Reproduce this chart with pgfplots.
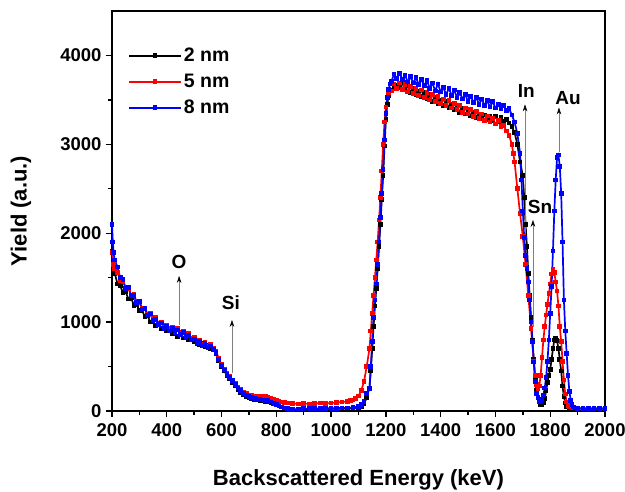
\documentclass[border=0pt]{standalone}
\usepackage{fontspec}
\setmainfont{Liberation Sans}
\usepackage{pgfplots}
\pgfplotsset{compat=1.18}
\usetikzlibrary{arrows.meta}
\definecolor{cblack}{RGB}{0,0,0}
\definecolor{cred}{RGB}{255,0,0}
\definecolor{cblue}{RGB}{0,0,255}
\begin{document}
\begin{tikzpicture}
\useasboundingbox (-112pt,-81pt) rectangle (513pt,411pt);
\begin{axis}[
  at={(0pt,0pt)}, anchor=south west,
  scale only axis, width=493pt, height=400pt,
  xmin=200, xmax=2000, ymin=0, ymax=4500,
  xtick={200,400,...,2000}, ytick={0,1000,...,4000},
  minor x tick num=1, minor y tick num=1,
  xtick pos=bottom, ytick pos=left,
  tick align=outside,
  major tick length=6pt, minor tick length=4pt,
  every tick/.style={black, line width=1.4pt},
  axis line style={line width=1.6pt},
  /pgf/number format/assume math mode=true,
  /pgf/number format/set thousands separator={},
  ticklabel style={font=\fontsize{18.5}{20}\selectfont\bfseries},
  xticklabel style={yshift=-3pt},
  yticklabel style={xshift=-1pt},
  legend style={at={(13pt,367pt)}, anchor=north west, draw=none, fill=none,
    font=\fontsize{19.5}{21}\selectfont\bfseries, row sep=7pt,
    legend cell align=left},
  legend image code/.code={\draw[mark repeat=2,mark phase=2] plot coordinates {(0pt,0pt) (26pt,0pt) (52pt,0pt)};},
  every axis plot/.append style={line width=1.7pt, mark=square*, mark size=1.5pt},
  clip=true,
]
% 2 nm
\addplot[cblack, mark options={fill=cblack}] coordinates {
(200,1800)(205,1620)(210,1550)(220,1430)(230,1410)(240,1330)(250,1340)(260,1260)(270,1270)(280,1190)(290,1200)(300,1130)(310,1130)(320,1060)(330,1070)(340,1000)(350,1010)(360,960)(370,970)(380,930)(390,940)(400,900)(410,910)(420,870)(430,880)(440,840)(450,855)(460,820)(470,835)(480,800)(490,810)(500,775)(510,785)(520,750)(530,760)(540,725)(550,735)(560,700)(570,690)(580,650)(590,570)(600,500)(610,450)(620,400)(630,360)(640,320)(650,280)(660,240)(670,210)(680,180)(690,160)(700,145)(710,138)(720,130)(730,125)(740,120)(750,115)(760,110)(770,103)(780,95)(790,82)(800,70)(810,57)(820,45)(830,35)(840,25)(850,20)(860,15)(880,15)(900,18)(920,20)(940,20)(960,22)(980,22)(1000,25)(1020,25)(1040,25)(1060,28)(1080,30)(1100,35)(1110,50)(1120,80)(1130,150)(1140,260)(1145,450)(1150,700)(1155,950)(1160,1180)(1165,1380)(1170,1600)(1175,1850)(1180,2100)(1185,2380)(1190,2650)(1195,2980)(1200,3280)(1205,3450)(1210,3550)(1220,3610)(1230,3640)(1240,3660)(1250,3640)(1260,3690)(1270,3610)(1280,3660)(1290,3580)(1300,3630)(1310,3560)(1320,3600)(1330,3540)(1340,3580)(1350,3510)(1360,3560)(1370,3480)(1380,3530)(1390,3460)(1400,3500)(1410,3440)(1420,3480)(1430,3410)(1440,3450)(1450,3390)(1460,3430)(1470,3360)(1480,3400)(1490,3340)(1500,3380)(1510,3320)(1520,3360)(1530,3300)(1540,3340)(1550,3290)(1560,3330)(1570,3280)(1580,3320)(1590,3270)(1600,3310)(1610,3260)(1620,3300)(1630,3260)(1640,3280)(1650,3240)(1660,3200)(1670,3130)(1680,3000)(1690,2800)(1700,2650)(1705,2400)(1710,2100)(1715,1850)(1720,1550)(1725,1300)(1730,1050)(1735,800)(1740,580)(1745,380)(1750,230)(1755,150)(1760,100)(1765,75)(1770,70)(1775,90)(1780,140)(1785,230)(1790,320)(1795,400)(1800,470)(1805,580)(1810,700)(1815,800)(1820,820)(1825,790)(1830,700)(1835,580)(1840,450)(1845,280)(1850,160)(1855,90)(1860,50)(1870,35)(1880,30)(1900,28)(1920,25)(1940,25)(1960,25)(1980,25)(2000,25)
};
\addlegendentry{2 nm}
% 5 nm
\addplot[cred, mark options={fill=cred}] coordinates {
(200,1780)(205,1650)(210,1600)(220,1560)(230,1470)(240,1460)(250,1380)(260,1380)(270,1300)(280,1310)(290,1230)(300,1230)(310,1160)(320,1160)(330,1090)(340,1100)(350,1040)(360,1050)(370,990)(380,1000)(390,950)(400,965)(410,925)(420,945)(430,905)(440,925)(450,880)(460,895)(470,855)(480,870)(490,815)(500,830)(510,780)(520,800)(530,750)(540,770)(550,730)(560,745)(570,710)(580,670)(590,590)(600,520)(610,470)(620,420)(630,390)(640,350)(650,310)(660,270)(670,240)(680,215)(690,195)(700,180)(710,175)(720,170)(730,170)(740,165)(750,160)(760,160)(770,150)(780,140)(790,130)(800,120)(810,110)(820,100)(830,95)(840,90)(860,85)(880,80)(900,85)(920,80)(940,85)(960,90)(980,85)(1000,90)(1020,95)(1040,100)(1060,110)(1070,115)(1080,125)(1090,140)(1100,170)(1110,230)(1120,330)(1130,500)(1140,700)(1145,900)(1150,1100)(1155,1300)(1160,1500)(1165,1700)(1170,1900)(1175,2150)(1180,2400)(1185,2700)(1190,3000)(1195,3250)(1200,3420)(1205,3530)(1210,3580)(1220,3600)(1230,3680)(1240,3630)(1250,3690)(1260,3620)(1270,3670)(1280,3590)(1290,3650)(1300,3570)(1310,3630)(1320,3550)(1330,3610)(1340,3530)(1350,3580)(1360,3500)(1370,3560)(1380,3480)(1390,3540)(1400,3460)(1410,3510)(1420,3440)(1430,3490)(1440,3410)(1450,3460)(1460,3390)(1470,3440)(1480,3360)(1490,3410)(1500,3340)(1510,3390)(1520,3310)(1530,3370)(1540,3290)(1550,3340)(1560,3270)(1570,3320)(1580,3250)(1590,3290)(1600,3230)(1610,3270)(1620,3200)(1630,3210)(1640,3150)(1650,3100)(1660,3000)(1665,2900)(1670,2800)(1680,2500)(1690,2220)(1700,1960)(1710,1650)(1720,1300)(1730,930)(1740,560)(1745,400)(1750,300)(1755,250)(1760,280)(1765,400)(1770,600)(1775,800)(1780,950)(1785,1080)(1790,1200)(1795,1320)(1800,1430)(1805,1540)(1810,1590)(1815,1560)(1820,1450)(1825,1350)(1830,1180)(1835,950)(1840,780)(1845,560)(1850,350)(1855,190)(1860,100)(1865,60)(1870,45)(1880,35)(1900,30)(1920,30)(1940,30)(1960,30)(1980,30)(2000,30)
};
\addlegendentry{5 nm}
% 8 nm
\addplot[cblue, mark options={fill=cblue}] coordinates {
(200,2100)(203,1900)(206,1780)(210,1700)(220,1620)(230,1500)(240,1480)(250,1380)(260,1390)(270,1300)(280,1300)(290,1220)(300,1230)(310,1140)(320,1150)(330,1080)(340,1090)(350,1020)(360,1030)(370,970)(380,990)(390,930)(400,950)(410,900)(420,930)(430,880)(440,910)(450,860)(460,880)(470,830)(480,850)(490,800)(500,810)(510,760)(520,785)(530,735)(540,760)(550,715)(560,730)(570,690)(580,660)(590,580)(600,510)(610,460)(620,410)(630,380)(640,340)(650,300)(660,260)(670,230)(680,200)(690,180)(700,160)(710,150)(720,140)(730,135)(740,130)(750,125)(760,120)(770,115)(780,100)(790,85)(800,70)(810,55)(820,45)(830,35)(840,25)(850,20)(860,20)(880,22)(900,25)(920,25)(940,28)(960,30)(980,30)(1000,30)(1020,32)(1040,35)(1060,35)(1080,40)(1100,50)(1110,70)(1120,110)(1130,200)(1140,250)(1145,500)(1150,780)(1155,1050)(1160,1250)(1165,1430)(1170,1650)(1175,1900)(1180,2180)(1185,2450)(1190,2720)(1195,3050)(1200,3350)(1205,3530)(1210,3620)(1215,3680)(1220,3710)(1230,3790)(1240,3740)(1250,3800)(1260,3730)(1270,3780)(1280,3700)(1290,3760)(1300,3690)(1310,3750)(1320,3670)(1330,3730)(1340,3660)(1350,3720)(1360,3630)(1370,3690)(1380,3600)(1390,3680)(1400,3590)(1410,3640)(1420,3560)(1430,3630)(1440,3550)(1450,3610)(1460,3520)(1470,3580)(1480,3510)(1490,3560)(1500,3480)(1510,3540)(1520,3470)(1530,3530)(1540,3450)(1550,3510)(1560,3440)(1570,3490)(1580,3420)(1590,3480)(1600,3410)(1610,3450)(1620,3400)(1630,3440)(1640,3380)(1650,3400)(1660,3330)(1670,3250)(1680,3120)(1690,2900)(1695,2600)(1700,2250)(1705,1950)(1710,1750)(1715,1600)(1720,1450)(1725,1250)(1730,1000)(1735,780)(1740,550)(1745,330)(1750,200)(1755,150)(1760,110)(1765,100)(1770,130)(1775,180)(1780,260)(1785,380)(1790,560)(1795,800)(1800,1100)(1805,1400)(1810,1800)(1815,2250)(1820,2600)(1825,2850)(1830,2880)(1835,2750)(1840,2450)(1845,1900)(1850,1250)(1855,900)(1860,650)(1865,400)(1870,220)(1875,120)(1880,70)(1885,45)(1890,35)(1900,30)(1920,28)(1940,25)(1960,25)(1980,25)(2000,25)
};
\addlegendentry{8 nm}
% annotations
\draw[gray, line width=0.6pt, -{Stealth[black,length=7pt,width=4.5pt]}] (axis cs:445,970) -- (axis cs:445,1520);
\draw[gray, line width=0.6pt, -{Stealth[black,length=7pt,width=4.5pt]}] (axis cs:638,430) -- (axis cs:638,1025);
\draw[gray, line width=0.6pt, -{Stealth[black,length=7pt,width=4.5pt]}] (axis cs:1708,2000) -- (axis cs:1708,3450);
\draw[gray, line width=0.6pt, -{Stealth[black,length=7pt,width=4.5pt]}] (axis cs:1737,950) -- (axis cs:1737,2150);
\draw[gray, line width=0.6pt, -{Stealth[black,length=7pt,width=4.5pt]}] (axis cs:1832,2910) -- (axis cs:1832,3415);
\node[font=\fontsize{19}{20}\selectfont\bfseries] at (axis cs:445,1680) {O};
\node[font=\fontsize{19}{20}\selectfont\bfseries] at (axis cs:634,1215) {Si};
\node[font=\fontsize{19}{20}\selectfont\bfseries] at (axis cs:1713,3600) {In};
\node[font=\fontsize{19}{20}\selectfont\bfseries] at (axis cs:1763,2300) {Sn};
\node[font=\fontsize{19}{20}\selectfont\bfseries] at (axis cs:1865,3515) {Au};
\end{axis}
\node[font=\fontsize{22}{24}\selectfont\bfseries] at (246.5pt,-69pt) {Backscattered Energy (keV)};
\node[rotate=90, font=\fontsize{22}{24}\selectfont\bfseries] at (-91pt,200pt) {Yield (a.u.)};
\end{tikzpicture}
\end{document}
